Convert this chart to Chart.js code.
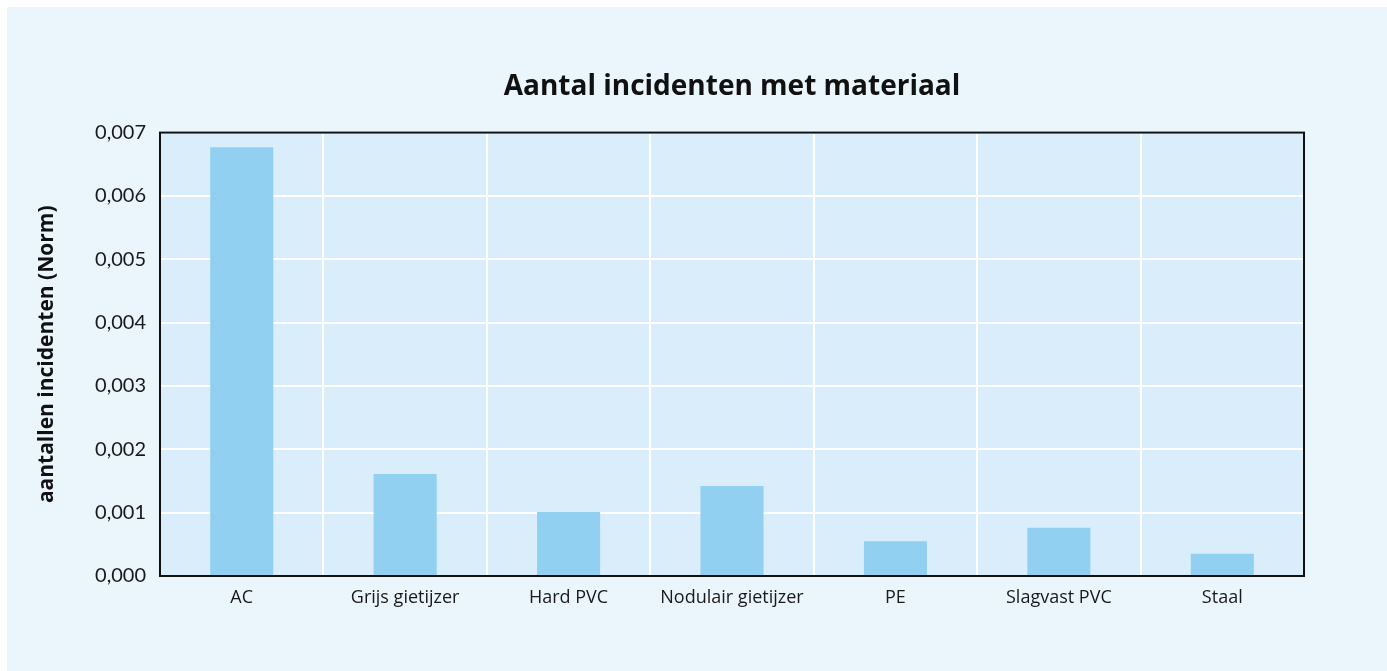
<!DOCTYPE html>
<html>
<head>
<meta charset="utf-8">
<script src="https://cdn.jsdelivr.net/npm/chart.js@4/dist/chart.umd.min.js"></script>
<style>
  html, body { margin: 0; padding: 0; background: #ffffff; }
  #wrap { position: absolute; left: 7px; top: 7px; width: 1380px; height: 664px; background: #EAF5FC; }
  canvas { display: block; }
</style>
</head>
<body>
<div id="wrap"><canvas id="c" width="1380" height="664"></canvas></div>
<script>
const categories = ["AC", "Grijs gietijzer", "Hard PVC", "Nodulair gietijzer", "PE", "Slagvast PVC", "Staal"];
const values = [0.00677, 0.00161, 0.00101, 0.00142, 0.00055, 0.00076, 0.00035];
const yTicks = [0, 0.001, 0.002, 0.003, 0.004, 0.005, 0.006, 0.007];
const titleText = "Aantal incidenten met materiaal";
const yTitle = "aantallen incidenten (Norm)";

const plotDecor = {
  id: 'plotDecor',
  beforeDraw(chart) {
    const { ctx, chartArea: a } = chart;
    ctx.save();
    ctx.fillStyle = '#D9EEFA';
    ctx.fillRect(a.left, a.top, a.right - a.left, a.bottom - a.top);
    ctx.restore();
  },
  afterDatasetsDraw(chart) {
    const { ctx, chartArea: a } = chart;
    ctx.save();
    ctx.strokeStyle = '#111111';
    ctx.lineWidth = 2;
    ctx.strokeRect(a.left, a.top, a.right - a.left, a.bottom - a.top);
    ctx.restore();
  }
};

new Chart(document.getElementById('c'), {
  type: 'bar',
  data: {
    labels: categories,
    datasets: [{
      data: values,
      backgroundColor: '#92D0F2',
      borderWidth: 0,
      barPercentage: 0.386,
      categoryPercentage: 1.0
    }]
  },
  options: {
    responsive: false,
    animation: false,
    layout: { padding: { left: 20, right: 83, top: 0, bottom: 0 } },
    plugins: {
      legend: { display: false },
      tooltip: { enabled: false },
      title: {
        display: true,
        fullSize: false,
        text: titleText,
        color: '#111111',
        font: { family: 'Open Sans', size: 28, weight: 'bold' },
        padding: { top: 63, bottom: 29 }
      }
    },
    scales: {
      x: {
        afterFit(scale) { scale.height = 95; },
        grid: { color: '#ffffff', lineWidth: 2, offset: true, drawTicks: false },
        border: { display: false },
        ticks: { color: '#1a1a1a', font: { family: 'Open Sans', size: 18 }, padding: 11, maxRotation: 0 }
      },
      y: {
        min: 0, max: 0.007,
        afterFit(scale) { scale.width = 133; },
        afterBuildTicks(scale) { scale.ticks = yTicks.map(v => ({ value: v })); },
        grid: { color: '#ffffff', lineWidth: 2, drawTicks: false },
        border: { display: false },
        title: {
          display: true,
          text: yTitle,
          color: '#111111',
          font: { family: 'Open Sans', size: 21, weight: 'bold' },
          padding: { top: 7, bottom: 0 }
        },
        ticks: {
          color: '#1a1a1a',
          font: { family: 'Lato', size: 20 },
          padding: 14,
          callback: v => Number(v).toFixed(3).replace('.', ',')
        }
      }
    }
  },
  plugins: [plotDecor]
});
</script>
</body>
</html>
